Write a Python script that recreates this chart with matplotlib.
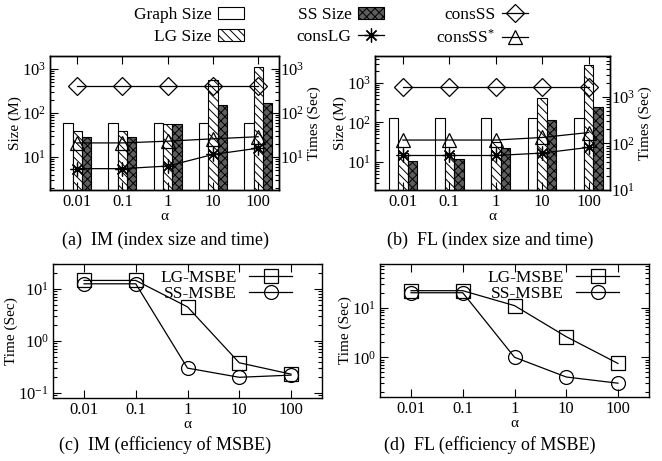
import matplotlib
matplotlib.use("Agg")
import matplotlib.pyplot as plt
import numpy as np
from matplotlib.patches import Patch
from matplotlib.lines import Line2D

plt.rcParams['font.family'] = ['Liberation Serif', 'DejaVu Serif']
plt.rcParams['mathtext.fontset'] = 'custom'
plt.rcParams['mathtext.rm'] = 'Liberation Serif'
plt.rcParams['mathtext.it'] = 'Liberation Serif:italic'
plt.rcParams['hatch.linewidth'] = 0.7
plt.rcParams['axes.linewidth'] = 1.0

# datos
alpha_labels = ["0.01", "0.1", "1", "10", "100"]

# IM (index size and time)
im_graph = [58, 58, 58, 58, 58]
im_lg = [39, 39, 56, 560, 1100]
im_ss = [28, 28, 56, 155, 170]
im_cons_ss = [410, 410, 410, 410, 410]
im_cons_ss_star = [21, 21, 23, 26, 29]
im_cons_lg = [5.5, 5.5, 6.3, 11.5, 16]

# FL (index size and time)
fl_graph = [133, 133, 133, 133, 133]
fl_lg = [17, 17, 32, 420, 2800]
fl_ss = [11, 12, 23, 118, 250]
fl_cons_ss = [1600, 1600, 1600, 1600, 1600]
fl_cons_ss_star = [118, 118, 118, 134, 171]
fl_cons_lg = [55, 55, 55, 62, 82]

# efficiency of MSBE
im_lg_msbe = [14.5, 14.5, 4.5, 0.38, 0.23]
im_ss_msbe = [12.5, 12.5, 0.30, 0.20, 0.22]
fl_lg_msbe = [22, 22, 11, 2.6, 0.75]
fl_ss_msbe = [20, 20, 1.0, 0.40, 0.30]

W, H = 662, 461
TICK_FS = 12
LABEL_FS = 11
LEG_FS = 12.5
CAP_FS = 13
ASTER = (8, 2, 0)


def px_axes(fig, left, right, top, bottom):
    return fig.add_axes([left / W, 1 - bottom / H, (right - left) / W, (bottom - top) / H])


def style_axis(ax, right=True):
    ax.tick_params(which='both', direction='in', top=True, right=right, labelsize=TICK_FS, pad=3)
    ax.tick_params(which='major', length=6, width=0.8)
    ax.tick_params(which='minor', length=3, width=0.8)
    ax.tick_params(axis='x', which='minor', bottom=False, top=False)


def bar_panel(ax, graph, lg, ss, cons_ss, cons_ss_star, cons_lg, ylim_l, ylim_r):
    x = np.arange(len(alpha_labels))
    w = 0.205
    ax.bar(x - w, graph, w, bottom=1e-3, color='white', edgecolor='black', lw=0.8)
    ax.bar(x, lg, w, bottom=1e-3, color='white', edgecolor='black', hatch='\\\\\\\\', lw=0.8)
    ax.bar(x + w, ss, w, bottom=1e-3, color='#5e5e5e', edgecolor='black', hatch='xxxx', lw=0.8)
    ax.set_yscale('log')
    ax.set_ylim(*ylim_l)
    ax.set_xlim(-0.6, 4.46)
    ax.set_xticks(x)
    ax.set_xticklabels(alpha_labels)
    ax.set_xlabel('α', fontsize=LABEL_FS, labelpad=0)
    ax.set_ylabel('Size (M)', fontsize=LABEL_FS, labelpad=0)
    style_axis(ax, right=False)

    ax2 = ax.twinx()
    ax2.set_yscale('log')
    ax2.set_ylim(*ylim_r)
    ax2.plot(x, cons_ss, color='black', lw=0.9, marker='D', ms=9, mfc='none', mec='black', mew=0.9)
    ax2.plot(x, cons_ss_star, color='black', lw=0.9, marker='^', ms=10, mfc='none', mec='black', mew=0.9)
    ax2.plot(x, cons_lg, color='black', lw=0.9, marker=ASTER, ms=10, mec='black', mew=0.9)
    ax2.tick_params(which='both', direction='in', labelsize=TICK_FS, pad=1)
    ax2.tick_params(which='major', length=6, width=0.8)
    ax2.tick_params(which='minor', length=3, width=0.8)
    ax2.set_ylabel('Times (Sec)', fontsize=LABEL_FS, labelpad=2)
    return ax2


def line_panel(ax, lg, ss, ylim):
    x = np.arange(len(alpha_labels))
    ax.plot(x, lg, color='black', lw=0.9, marker='s', ms=10, mfc='none', mec='black', mew=0.9,
            label='LG-MSBE')
    ax.plot(x, ss, color='black', lw=0.9, marker='o', ms=10, mfc='none', mec='black', mew=0.9,
            label='SS-MSBE')
    ax.set_yscale('log')
    ax.set_ylim(*ylim)
    ax.set_xlim(-0.6, 4.6)
    ax.set_xticks(x)
    ax.set_xticklabels(alpha_labels)
    ax.set_xlabel('α', fontsize=LABEL_FS, labelpad=0)
    ax.set_ylabel('Time (Sec)', fontsize=LABEL_FS, labelpad=0)
    style_axis(ax)
    ax.legend(loc='upper right', bbox_to_anchor=(0.935, 1.045), frameon=False, markerfirst=False,
              fontsize=LEG_FS, handlelength=2.5, handletextpad=0.7, labelspacing=0.0,
              borderpad=0.2)


fig = plt.figure(figsize=(W / 100, H / 100), dpi=100)

ax_a = px_axes(fig, 50, 279, 56, 190)
bar_panel(ax_a, im_graph, im_lg, im_ss, im_cons_ss, im_cons_ss_star, im_cons_lg,
          (1.81, 1940), (1.81, 1940))

ax_b = px_axes(fig, 375, 610, 56, 190)
bar_panel(ax_b, fl_graph, fl_lg, fl_ss, fl_cons_ss, fl_cons_ss_star, fl_cons_lg,
          (2.0, 4700), (10, 7500))

ax_c = px_axes(fig, 53, 322, 264, 398)
line_panel(ax_c, im_lg_msbe, im_ss_msbe, (0.08, 30))

ax_d = px_axes(fig, 380, 649, 264, 397)
line_panel(ax_d, fl_lg_msbe, fl_ss_msbe, (0.158, 76))

# leyenda superior
handles = [
    Patch(facecolor='white', edgecolor='black', lw=0.8),
    Patch(facecolor='white', edgecolor='black', hatch='\\\\\\\\', lw=0.8),
    Patch(facecolor='#5e5e5e', edgecolor='black', hatch='xxxx', lw=0.8),
    Line2D([], [], color='black', lw=0.9, marker=ASTER, ms=10, mew=0.9),
    Line2D([], [], color='black', lw=0.9, marker='D', ms=9, mfc='none', mew=0.9),
    Line2D([], [], color='black', lw=0.9, marker='^', ms=10, mfc='none', mew=0.9),
]
labels = ['Graph Size', 'LG Size', 'SS Size', 'consLG', 'consSS', 'consSS$^{*}$']
fig.legend(handles, labels, loc='center', bbox_to_anchor=(331 / W, 1 - 27 / H), ncol=3,
           frameon=False, markerfirst=False, fontsize=LEG_FS, handlelength=1.5,
           handletextpad=0.4, columnspacing=3.0, labelspacing=0.35)

# subtítulos
fig.text(165 / W, 1 - 240 / H, '(a)  IM (index size and time)', ha='center', va='center', fontsize=CAP_FS)
fig.text(490 / W, 1 - 240 / H, '(b)  FL (index size and time)', ha='center', va='center', fontsize=CAP_FS)
fig.text(165 / W, 1 - 445 / H, '(c)  IM (efficiency of MSBE)', ha='center', va='center', fontsize=CAP_FS)
fig.text(490 / W, 1 - 445 / H, '(d)  FL (efficiency of MSBE)', ha='center', va='center', fontsize=CAP_FS)

fig.savefig('out.png', dpi=100)
